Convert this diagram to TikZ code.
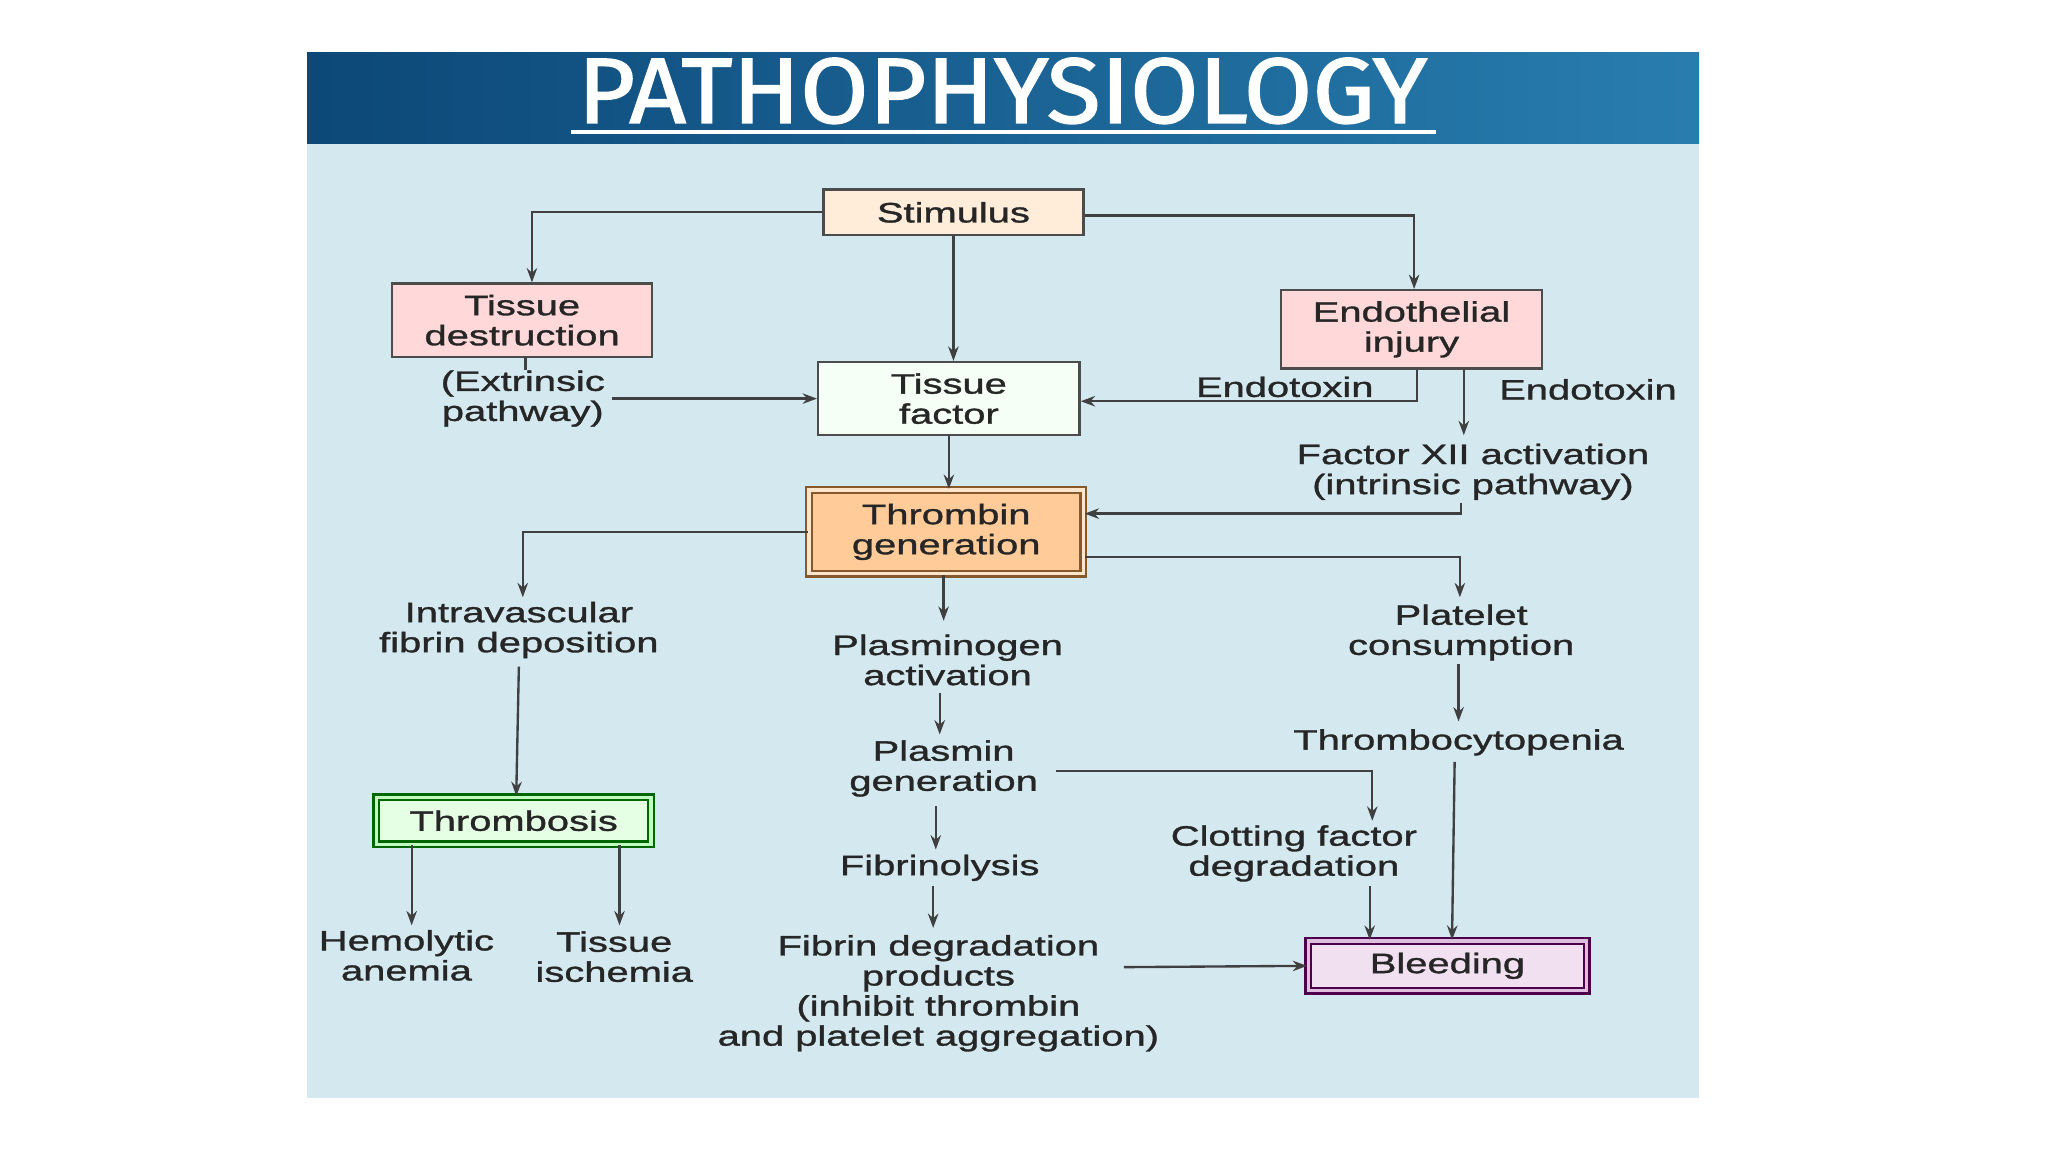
\documentclass[tikz,border=0pt]{standalone}
\usepackage{fontspec}
\usetikzlibrary{arrows.meta}
\setmainfont{Liberation Sans}[FakeStretch=1.42,FakeBold=1.2]
\newfontfamily\titlefont{Fira Sans}[FakeStretch=1.07,FakeBold=1.5]
\definecolor{hdA}{RGB}{12,72,120}
\definecolor{hdB}{RGB}{40,125,175}
\definecolor{bodyc}{RGB}{212,233,239}
\begin{document}
\begin{tikzpicture}[x=1pt,y=-1pt,
  lbl/.style={align=center,font=\fontsize{21.5}{23}\selectfont,text=black!85},
  bx/.style={draw=black!70,line width=1.8pt,lbl,inner sep=0pt},
  arr/.style={-{Stealth[length=11pt,width=8pt]},line width=1.8pt,draw=black!75},
  ln/.style={line width=1.8pt,draw=black!75}]
\useasboundingbox (0,0) rectangle (1567,882);
\fill[white] (0,0) rectangle (1567,882);
\shade[left color=hdA,right color=hdB] (235,40) rectangle (1300,110);
\fill[bodyc] (235,110) rectangle (1300,840);
\node[text=white,font=\titlefont\fontsize{71}{71}\selectfont,anchor=base] (title) at (767,94) {PATHOPHYSIOLOGY};
\draw[white,line width=3.5pt] (437,101) -- (1099,101);
% boxes
\node[bx,fill=orange!15] (stim) at (729.5,162.5) [minimum width=199pt,minimum height=35pt] {Stimulus};
\node[bx,fill=red!15] (tdes) at (399.5,245) [minimum width=199pt,minimum height=56pt] {Tissue\\destruction};
\node[bx,fill=red!15] (endo) at (1080,252) [minimum width=200pt,minimum height=60pt] {Endothelial\\injury};
\node[bx,fill=green!4!white] (tf) at (726,305) [minimum width=200pt,minimum height=56pt] {Tissue\\factor};
\node[bx,fill=orange!40,double=orange!20,double distance=2.5pt,draw=brown!70!black] (thr) at (724,407) [minimum width=210pt,minimum height=64pt] {Thrombin\\generation};
\node[bx,fill=green!10,double=green!25,double distance=2.5pt,draw=black!60!green] (tbs) at (393,628) [minimum width=210pt,minimum height=36pt] {Thrombosis};
\node[bx,fill=violet!12,double=violet!25,double distance=2.5pt,draw=violet!60!black] (bld) at (1107.5,739) [minimum width=213pt,minimum height=38pt] {Bleeding};
% labels
\node[lbl] (ext) at (400,305) {(Extrinsic\\pathway)};
\node[lbl] (et1) at (983,296) {Endotoxin};
\node[lbl] (et2) at (1215,298) {Endotoxin};
\node[lbl] (f12) at (1127,361) {Factor XII activation\\(intrinsic pathway)};
\node[lbl] (ivf) at (397,482) {Intravascular\\fibrin deposition};
\node[lbl] (pga) at (725,505) {Plasminogen\\activation};
\node[lbl] (plc) at (1118,484) {Platelet\\consumption};
\node[lbl] (pgen) at (722,588) {Plasmin\\generation};
\node[lbl] (tcp) at (1116,568) {Thrombocytopenia};
\node[lbl] (fib) at (719,664) {Fibrinolysis};
\node[lbl] (cfd) at (990,653) {Clotting factor\\degradation};
\node[lbl] (hem) at (311,731) {Hemolytic\\anemia};
\node[lbl] (tis) at (470,732) {Tissue\\ischemia};
\node[lbl] (fdp) at (718,760) {Fibrin degradation\\products\\(inhibit thrombin\\and platelet aggregation)};
\coordinate (c1) at (407,162);
\coordinate (c2) at (1082,165);
\coordinate (c3) at (1084,307);
\coordinate (c4) at (1118,393);
\coordinate (c5) at (400,407);
\coordinate (c6) at (1117,426);
\coordinate (c7) at (1050,590);
% arrows
\draw[arr] (stim.west|-c1) -- (c1) -- (c1|-tdes.north);
\draw[arr] (stim.east|-c2) -- (c2) -- (c2|-endo.north);
\draw[arr] (stim.south) -- (tf.north-|stim.south);
\draw[ln] (402,273) -- (402,283);
\draw[arr] (468,305) -- (tf.west);
\draw[arr] (c3|-endo.south) -- (c3) -- (tf.east|-c3);
\draw[arr] (1120,282) -- (1120,333);
\draw[arr] (c4|-0,385) -- (c4) -- (thr.east|-c4);
\draw[arr] (tf.south) -- (thr.north-|tf.south);
\draw[arr] (thr.west|-c5) -- (c5) -- (400,457);
\draw[arr] (thr.east|-c6) -- (c6) -- (1117,457);
\draw[arr] (thr.south-|722,0) -- (722,475);
\draw[arr] (397,510) -- (tbs.north-|395,0);
\draw[arr] (719,530) -- (719,562);
\draw[arr] (1116,508) -- (1116,552);
\draw[arr] (808,590) -- (c7) -- (1050,628);
\draw[arr] (716,617) -- (716,650);
\draw[arr] (1113,583) -- (bld.north-|1111,0);
\draw[arr] (1048,678) -- (bld.north-|1048,0);
\draw[arr] (714,678) -- (714,710);
\draw[arr] (860,740) -- (bld.west);
\draw[arr] (tbs.south-|315,0) -- (315,708);
\draw[arr] (tbs.south-|474,0) -- (474,708);
\end{tikzpicture}
\end{document}
